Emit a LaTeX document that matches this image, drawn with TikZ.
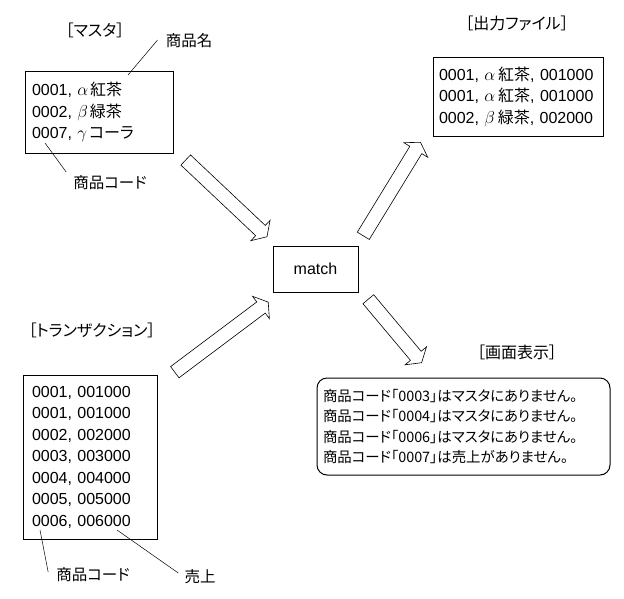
\documentclass[tikz,border=0pt]{standalone}
\usepackage{fontspec}
\setmainfont{Liberation Sans}
\newfontfamily\jp[RawFeature={+palt}]{Noto Sans CJK JP}
\usetikzlibrary{calc}
\newcommand\hollowarrow[2]{%
  \coordinate (#1hb) at ($(#2)!9pt!(#1)$);
  \draw[blockarr] ($(#1)!7pt!90:(#2)$) -- ($(#1hb)!7pt!90:(#2)$) -- ($(#1hb)!14pt!90:(#2)$) -- (#2)
    -- ($(#1hb)!14pt!-90:(#2)$) -- ($(#1hb)!7pt!-90:(#2)$) -- ($(#1)!7pt!-90:(#2)$) -- cycle;}
\begin{document}
\begin{tikzpicture}[x=1pt,y=-1pt,
  box/.style={draw, line width=1pt, inner sep=0pt, align=left,
    font=\fontsize{16}{21.5}\selectfont},
  title/.style={inner sep=0pt, font=\jp\fontsize{16}{18}\selectfont},
  lbl/.style={inner sep=0pt, font=\jp\fontsize{15.5}{18}\selectfont},
  leader/.style={line width=0.5pt},
  blockarr/.style={line width=0.6pt, line join=miter}]
\useasboundingbox (0,0) rectangle (624,598);

% titles
\node[title] (tmaster) at (95,30) {［マスタ］};
\node[title] (tout) at (517,23) {［出力ファイル］};
\node[title] (ttrans) at (92,330) {［トランザクション］};
\node[title] (tscreen) at (517,352) {［画面表示］};

% boxes
\node[box, minimum width=148, minimum height=82, text width=134] (master) at (99,112)
  {0001, $\alpha$\hspace{2pt}{\jp 紅茶}\\0002, $\beta$\hspace{2pt}{\jp 緑茶}\\0007, $\gamma$\hspace{2pt}{\jp コーラ}};
\node[box, minimum width=170, minimum height=79, text width=158] (out) at (518,96.5)
  {0001, $\alpha$\hspace{3pt}{\jp 紅茶}, 001000\\0001, $\alpha$\hspace{3pt}{\jp 紅茶}, 001000\\0002, $\beta$\hspace{3pt}{\jp 緑茶}, 002000};
\node[box, minimum width=85, minimum height=46, align=center] (match) at (315.5,269) {match};
\node[box, minimum width=134, minimum height=164, text width=116] (trans) at (90,457)
  {0001, 001000\\0001, 001000\\0002, 002000\\0003, 003000\\0004, 004000\\0005, 005000\\0006, 006000};
\node[box, rounded corners=10pt, minimum width=293, minimum height=97, text width=281,
  font=\jp\fontsize{14.4}{20.5}\selectfont] (screen) at (463.5,426.5)
  {商品コード「0003」はマスタにありません。\\商品コード「0004」はマスタにありません。\\商品コード「0006」はマスタにありません。\\商品コード「0007」は売上がありません。};

% labels and leaders
\node[lbl] (lname) at (189,41) {商品名};
\node[lbl] (lcode1) at (110,183) {商品コード};
\node[lbl] (lcode2) at (93,575) {商品コード};
\node[lbl] (lsales) at (200,577) {売上};
\coordinate (pname) at (128,75);
\coordinate (pcode1) at (45,143);
\coordinate (pcode2) at (40,530);
\coordinate (psales) at (117,530);
\draw[leader] ($(lname.west)+(-8,-1)$) -- (pname);
\draw[leader] ($(lcode1.west)+(-7,-11)$) -- (pcode1);
\draw[leader] ($(lcode2.west)+(-8,-3)$) -- (pcode2);
\draw[leader] ($(lsales.west)+(-6,-4)$) -- (psales);

% block arrows
\coordinate (a1t) at (185.7,160);   \coordinate (a1h) at (267,236.7);
\coordinate (a2t) at (363.3,235.8); \coordinate (a2h) at (420.5,142.3);
\coordinate (a3t) at (174.8,372.2); \coordinate (a3h) at (268.2,302.1);
\coordinate (a4t) at (368.3,299.2); \coordinate (a4h) at (421.6,362.7);
\hollowarrow{a1t}{a1h}
\hollowarrow{a2t}{a2h}
\hollowarrow{a3t}{a3h}
\hollowarrow{a4t}{a4h}
\end{tikzpicture}
\end{document}
